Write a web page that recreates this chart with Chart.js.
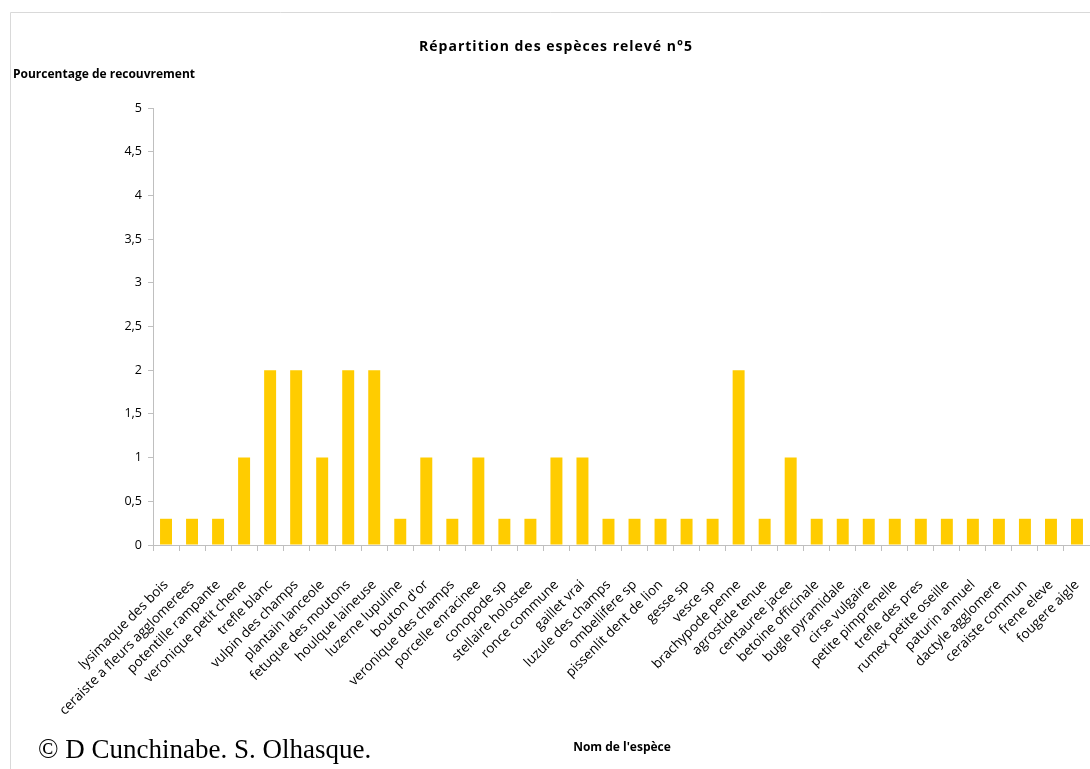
<!DOCTYPE html>
<html>
<head>
<meta charset="utf-8">
<script src="https://cdn.jsdelivr.net/npm/chart.js@4.4.0/dist/chart.umd.min.js"></script>
<style>
  html, body { margin: 0; padding: 0; background: #fff; overflow: hidden; }
  #wrap { position: relative; width: 1090px; height: 769px; }
</style>
</head>
<body>
<div id="wrap"><canvas id="releveChart" width="1090" height="769"></canvas></div>
<script>
// Species names (x axis) and cover values (y axis)
const especes = [
  "lysimaque des bois", "ceraiste a fleurs agglomerees", "potentille rampante",
  "veronique petit chene", "trefle blanc", "vulpin des champs", "plantain lanceole",
  "fetuque des moutons", "houlque laineuse", "luzerne lupuline", "bouton d'or",
  "veronique des champs", "porcelle enracinee", "conopode sp", "stellaire holostee",
  "ronce commune", "gaillet vrai", "luzule des champs", "ombellifere sp",
  "pissenlit dent de lion", "gesse sp", "vesce sp", "brachypode penne",
  "agrostide tenue", "centauree jacee", "betoine officinale", "bugle pyramidale",
  "cirse vulgaire", "petite pimprenelle", "trefle des pres", "rumex petite oseille",
  "paturin annuel", "dactyle agglomere", "ceraiste commun", "frene eleve", "fougere aigle"
];
const recouvrement = [
  0.3, 0.3, 0.3, 1, 2, 2, 1, 2, 2, 0.3, 1, 0.3, 1, 0.3, 0.3, 1, 1, 0.3, 0.3,
  0.3, 0.3, 0.3, 2, 0.3, 1, 0.3, 0.3, 0.3, 0.3, 0.3, 0.3, 0.3, 0.3, 0.3, 0.3, 0.3
];
const yTicks = [0, 0.5, 1, 1.5, 2, 2.5, 3, 3.5, 4, 4.5, 5];

const titre = "Répartition des espèces relevé n°5";
const titreY = "Pourcentage de recouvrement";
const titreX = "Nom de l'espèce";
const credit = "© D Cunchinabe. S. Olhasque.";

// draws frame, titles and credit at fixed places
const decor = {
  id: 'decor',
  beforeDraw(chart) {
    const c = chart.ctx;
    c.save();
    c.strokeStyle = '#d9d9d9';
    c.lineWidth = 1;
    c.beginPath();
    c.moveTo(10.5, 769);
    c.lineTo(10.5, 12.5);
    c.lineTo(1090, 12.5);
    c.stroke();
    c.restore();
  },
  afterDraw(chart) {
    const c = chart.ctx;
    c.save();
    c.fillStyle = '#000';
    c.textBaseline = 'middle';
    c.font = 'bold 14px "Open Sans"';
    c.textAlign = 'center';
    c.letterSpacing = '1px';
    c.fillText(titre, 556, 47);
    c.letterSpacing = '0px';
    c.font = 'bold 12px "Open Sans"';
    c.textAlign = 'left';
    c.fillText(titreY, 13, 75);
    c.textAlign = 'center';
    c.fillText(titreX, 622, 748);
    c.font = '27px "Liberation Serif"';
    c.textAlign = 'left';
    c.fillText(credit, 38, 751);
    c.restore();
  }
};

const ctx = document.getElementById('releveChart').getContext('2d');
const releveChart = new Chart(ctx, {
  type: 'bar',
  data: {
    labels: especes,
    datasets: [{
      data: recouvrement,
      backgroundColor: '#FFCC00',
      borderWidth: 0,
      barPercentage: 0.46,
      categoryPercentage: 1
    }]
  },
  options: {
    responsive: false,
    animation: false,
    devicePixelRatio: 1,
    layout: { padding: { top: 108, left: 0, right: 0, bottom: 0 } },
    plugins: {
      legend: { display: false },
      tooltip: { enabled: false }
    },
    scales: {
      x: {
        afterFit(s) {
          s.height = 224;
          s.paddingLeft = 0;
          s.paddingRight = 0;
        },
        grid: {
          drawOnChartArea: false,
          color: '#bfbfbf',
          tickLength: 6
        },
        border: { color: '#bfbfbf' },
        ticks: {
          autoSkip: false,
          maxRotation: 45,
          minRotation: 45,
          padding: 26,
          color: '#000',
          font: { family: '"Open Sans"', size: 13.5 }
        }
      },
      y: {
        min: 0,
        max: 5,
        afterFit(s) {
          s.width = 153;
          s.paddingTop = 0;
          s.paddingBottom = 0;
        },
        afterBuildTicks(s) { s.ticks = yTicks.map(v => ({ value: v })); },
        grid: {
          drawOnChartArea: false,
          color: '#bfbfbf',
          tickLength: 5
        },
        border: { color: '#bfbfbf' },
        ticks: {
          padding: 6,
          color: '#000',
          font: { family: '"Open Sans"', size: 12.5 },
          callback: v => String(v).replace('.', ',')
        }
      }
    }
  },
  plugins: [decor]
});
</script>
</body>
</html>
